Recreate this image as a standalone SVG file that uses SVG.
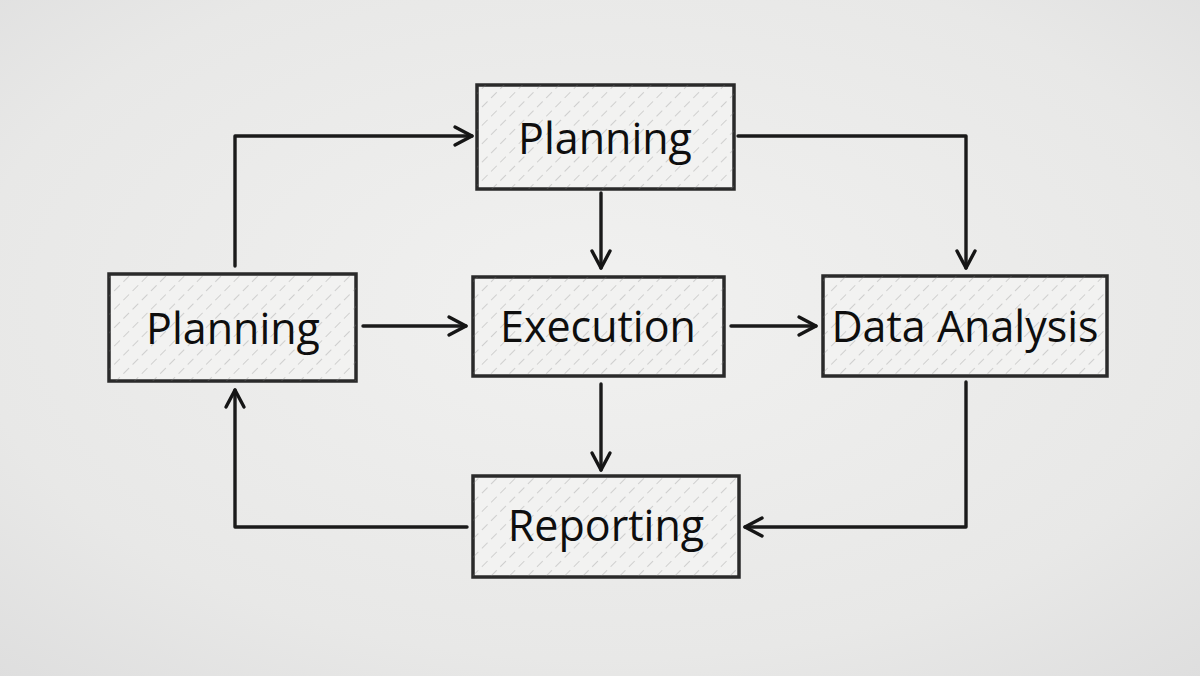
<svg xmlns="http://www.w3.org/2000/svg" width="1200" height="676" viewBox="0 0 1200 676">
<defs>
<radialGradient id="bg" cx="50%" cy="45%" r="75%">
<stop offset="0" stop-color="#f1f1f0"/>
<stop offset="0.7" stop-color="#e8e8e7"/>
<stop offset="1" stop-color="#dedede"/>
</radialGradient>
<pattern id="hatch" width="13" height="13" patternUnits="userSpaceOnUse" patternTransform="rotate(45)">
<line x1="0" y1="0" x2="0" y2="13" stroke="#7a7a7a" stroke-width="1.2" stroke-dasharray="8 5" opacity="0.5"/>
</pattern>
<marker id="arr" viewBox="0 0 24 24" refX="21" refY="12" markerWidth="24" markerHeight="24" markerUnits="userSpaceOnUse" orient="auto">
<path d="M4,3 L21,12 L4,21" fill="none" stroke="#151515" stroke-width="3.4" stroke-linecap="round" stroke-linejoin="round"/>
</marker>
</defs>
<style>
.box{fill:#f2f2f1;stroke:#2a2a2a;stroke-width:3.5}
.hat{fill:url(#hatch);stroke:none}
.lbl{font-family:"Open Sans","Noto Sans",sans-serif;font-size:43px;fill:#0e0e0e;text-anchor:middle;dominant-baseline:central}
.con{fill:none;stroke:#1a1a1a;stroke-width:3.4;stroke-linecap:round;stroke-linejoin:round;marker-end:url(#arr)}
</style>
<rect width="1200" height="676" fill="url(#bg)"/>
<g id="connectors">
<path class="con" d="M235,266 L235,136 L472,136"/>
<path class="con" d="M738,136 L966,136 L966,268"/>
<path class="con" d="M601,193 L601,268"/>
<path class="con" d="M363,326 L466,326"/>
<path class="con" d="M731,326 L816,326"/>
<path class="con" d="M601,384 L601,470"/>
<path class="con" d="M966,382 L966,527 L745,527"/>
<path class="con" d="M467,527 L235,527 L235,390"/>
</g>
<g id="node-planning-top">
<rect class="box" x="477" y="85" width="257" height="104"/>
<rect class="hat" x="477" y="85" width="257" height="104"/>
<text class="lbl" x="605" y="137">Planning</text>
</g>
<g id="node-planning-left">
<rect class="box" x="109" y="274" width="247" height="107"/>
<rect class="hat" x="109" y="274" width="247" height="107"/>
<text class="lbl" x="233" y="327">Planning</text>
</g>
<g id="node-execution">
<rect class="box" x="473" y="277" width="251" height="99"/>
<rect class="hat" x="473" y="277" width="251" height="99"/>
<text class="lbl" x="598" y="325">Execution</text>
</g>
<g id="node-data-analysis">
<rect class="box" x="823" y="276" width="284" height="100"/>
<rect class="hat" x="823" y="276" width="284" height="100"/>
<text class="lbl" x="965" y="325">Data Analysis</text>
</g>
<g id="node-reporting">
<rect class="box" x="473" y="476" width="266" height="101"/>
<rect class="hat" x="473" y="476" width="266" height="101"/>
<text class="lbl" x="606" y="524">Reporting</text>
</g>
</svg>
